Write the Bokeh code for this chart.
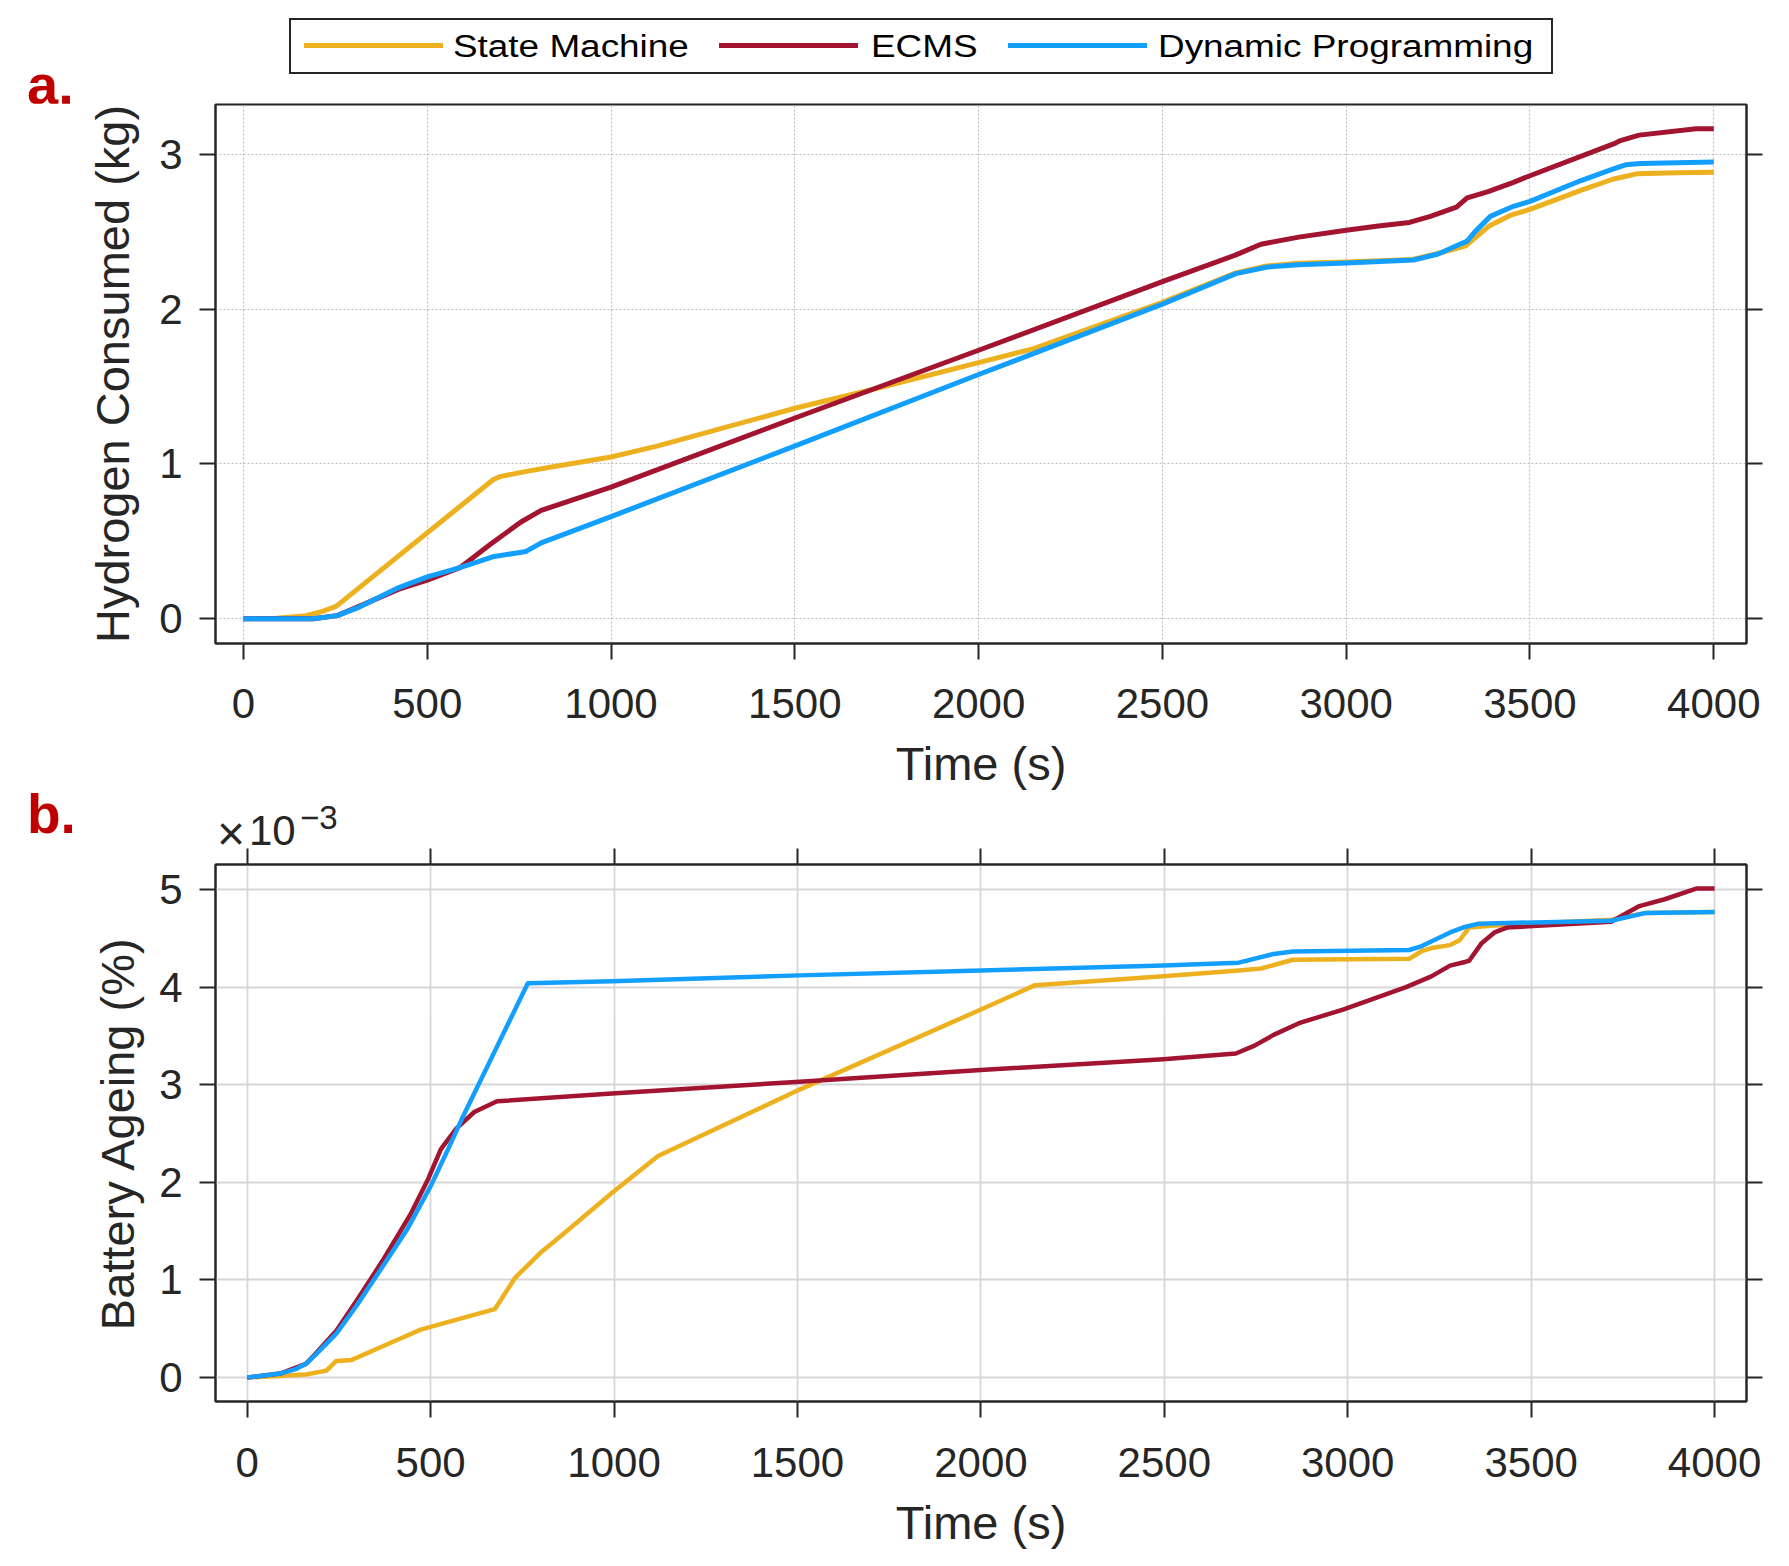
from bokeh.plotting import figure
from bokeh.models import (Range1d, LinearAxis, FixedTicker, CustomJSTickFormatter, Div)
from bokeh.layouts import column
from bokeh.embed import file_html
from bokeh.resources import INLINE

# ---------------- data ----------------
x_ticks = [0, 500, 1000, 1500, 2000, 2500, 3000, 3500, 4000]
ya_ticks = [0, 1, 2, 3]
yb_ticks = [0, 1, 2, 3, 4, 5]

# (a) hydrogen consumed (kg)
t_sm_a = [0, 90, 170, 212, 252, 680, 700, 770, 850, 1000, 1125, 1500, 1700, 2000, 2150,
          2500, 2700, 2780, 2870, 3000, 3180, 3250, 3325, 3390, 3450, 3500, 3640, 3725,
          3790, 3900, 4000]
h_sm = [0, 0.003, 0.02, 0.045, 0.08, 0.90, 0.92, 0.952, 0.985, 1.045, 1.115, 1.36, 1.475,
        1.655, 1.745, 2.045, 2.235, 2.278, 2.297, 2.305, 2.322, 2.36, 2.41, 2.54, 2.61,
        2.645, 2.77, 2.84, 2.875, 2.882, 2.885]

t_ec_a = [0, 190, 255, 310, 421, 500, 589, 671, 755, 810, 1000, 1515, 2000, 2500, 2700,
          2768, 2871, 3000, 3093, 3172, 3229, 3300, 3329, 3386, 3455, 3498, 3729, 3746,
          3797, 3952, 4000]
h_ec = [0, 0, 0.02, 0.075, 0.19, 0.25, 0.33, 0.48, 0.625, 0.70, 0.85, 1.31, 1.735, 2.178,
        2.351, 2.42, 2.466, 2.51, 2.54, 2.561, 2.60, 2.66, 2.72, 2.76, 2.82, 2.861, 3.07,
        3.09, 3.125, 3.167, 3.167]

t_dp_a = [0, 190, 255, 310, 421, 500, 589, 678, 769, 810, 1000, 1515, 2000, 2500, 2700,
          2786, 2871, 3000, 3183, 3250, 3300, 3329, 3350, 3392, 3455, 3500, 3637, 3725,
          3760, 3800, 4000]
h_dp = [0, 0, 0.02, 0.07, 0.20, 0.27, 0.33, 0.40, 0.435, 0.49, 0.66, 1.13, 1.578, 2.033,
        2.23, 2.273, 2.287, 2.299, 2.318, 2.357, 2.41, 2.44, 2.50, 2.60, 2.665, 2.697,
        2.83, 2.905, 2.933, 2.942, 2.951]

# (b) battery ageing (x1e-3 %)
t_sm_b = [0, 160, 216, 243, 285, 382, 473, 549, 675, 730, 800, 855, 994, 1120, 1506, 2000,
          2148, 2497, 2703, 2764, 2850, 3168, 3202, 3228, 3279, 3305, 3331, 3400, 3718,
          3813, 4000]
a_sm = [0, 0.03, 0.07, 0.17, 0.18, 0.34, 0.49, 0.57, 0.70, 1.02, 1.28, 1.45, 1.89, 2.27,
        2.95, 3.77, 4.02, 4.11, 4.17, 4.19, 4.28, 4.29, 4.37, 4.40, 4.43, 4.48, 4.61, 4.63,
        4.69, 4.76, 4.77]

t_ec_b = [0, 90, 160, 188, 243, 299, 368, 445, 494, 528, 570, 619, 681, 994, 1506, 2000,
          2497, 2695, 2746, 2798, 2867, 2987, 3159, 3228, 3279, 3322, 3331, 3365, 3400,
          3434, 3718, 3795, 3864, 3950, 4000]
a_ec = [0, 0.04, 0.14, 0.25, 0.48, 0.79, 1.19, 1.67, 2.04, 2.34, 2.55, 2.72, 2.83, 2.91,
        3.03, 3.15, 3.26, 3.32, 3.40, 3.51, 3.63, 3.77, 4.00, 4.11, 4.22, 4.26, 4.27, 4.45,
        4.56, 4.61, 4.67, 4.83, 4.90, 5.01, 5.01]

t_dp_b = [0, 90, 132, 160, 188, 243, 299, 368, 438, 500, 549, 584, 765, 994, 1506, 2000,
          2497, 2703, 2798, 2850, 3168, 3202, 3279, 3314, 3357, 3718, 3813, 4000]
a_dp = [0, 0.04, 0.085, 0.14, 0.24, 0.45, 0.74, 1.13, 1.53, 1.96, 2.35, 2.64, 4.04, 4.06,
        4.12, 4.17, 4.22, 4.25, 4.34, 4.365, 4.38, 4.42, 4.56, 4.61, 4.65, 4.68, 4.76, 4.77]

names = ["State Machine", "ECMS", "Dynamic Programming"]
colors = ["#EDB120", "#A2142F", "#139FFF"]

# ---------------- styling helpers ----------------
FONT = "Liberation Sans"
CSS_FONT = "'Liberation Sans', Arial, sans-serif"
INK = "#262626"
PAGE_W = 1781
LEFT = 215
FRAME_W = 1531


def style_axis(ax, ticks, show_labels=True, label_standoff=18):
    ax.ticker = FixedTicker(ticks=ticks)
    ax.axis_line_color = INK
    ax.axis_line_width = 2
    ax.major_tick_line_color = INK
    ax.major_tick_line_width = 2
    ax.major_tick_out = 16
    ax.major_tick_in = 0
    ax.minor_tick_out = 0
    ax.minor_tick_in = 0
    ax.major_label_text_font = FONT
    ax.major_label_text_color = INK
    ax.axis_label_text_font = FONT
    ax.axis_label_text_color = INK
    ax.axis_label_text_font_style = "normal"
    ax.axis_label_text_font_size = "47px"
    if show_labels:
        ax.major_label_text_font_size = "42px"
        ax.major_label_standoff = label_standoff
    else:
        ax.formatter = CustomJSTickFormatter(code="return ''")
        ax.major_label_text_font_size = "1px"
        ax.major_label_standoff = 0


def make_fig(fh, xr, yr, top, bottom):
    p = figure(frame_width=FRAME_W, frame_height=fh, x_range=Range1d(*xr),
               y_range=Range1d(*yr), output_backend="svg", toolbar_location=None,
               min_border_left=LEFT, min_border_right=PAGE_W - LEFT - FRAME_W,
               min_border_top=top, min_border_bottom=bottom)
    p.outline_line_color = INK
    p.outline_line_width = 2
    p.outline_line_alpha = 1
    p.background_fill_color = "white"
    p.border_fill_color = "white"
    return p


def txt(s, left, baseline, size, color=INK, bold=False, extra=""):
    # absolutely positioned text; line-height 1 => baseline sits 0.8465em below the box top
    top = baseline - 0.8465 * size
    weight = "bold" if bold else "normal"
    return (f'<span style="position:absolute;left:{left}px;top:{top:.1f}px;'
            f'font-family:{CSS_FONT};font-size:{size}px;font-weight:{weight};'
            f'line-height:1;white-space:nowrap;color:{color};{extra}">{s}</span>')


def strip(h, inner):
    return Div(text=f'<div style="position:relative;width:{PAGE_W}px;height:{h}px;'
                    f'overflow:visible;background:white;">{inner}</div>',
               width=PAGE_W, height=h, margin=(0, 0, 0, 0))


# ---------------- header: legend + "a." ----------------
H_H = 103
leg_line_x = [304, 719, 1008]
leg_text_x = [453, 871, 1158]
parts = ['<div style="position:absolute;left:289px;top:18px;width:1264px;height:56px;'
         f'border:2px solid {INK};box-sizing:border-box;background:white;"></div>']
for lx, tx, n, c in zip(leg_line_x, leg_text_x, names, colors):
    parts.append(f'<div style="position:absolute;left:{lx}px;top:42.5px;width:139px;'
                 f'height:5px;background:{c};"></div>')
    parts.append(txt(n, tx, 56.7, 31, color="black",
                     extra="transform:scaleX(1.19);transform-origin:0 50%;"))
parts.append(txt("a.", 27, 104, 56, color="#C00000", bold=True))
head = strip(H_H, "".join(parts))

# ---------------- figure (a) ----------------
p1 = make_fig(539, (-76, 4089), (-0.16, 3.323), 1, 150)
style_axis(p1.xaxis[0], x_ticks, label_standoff=29)
style_axis(p1.yaxis[0], ya_ticks, label_standoff=17)
p1.xaxis[0].axis_label = "Time (s)"
p1.xaxis[0].axis_label_standoff = 16
p1.yaxis[0].axis_label = "Hydrogen Consumed (kg)"
p1.yaxis[0].axis_label_standoff = 17
r_ax = LinearAxis()
style_axis(r_ax, ya_ticks, show_labels=False)
p1.add_layout(r_ax, "right")
p1.xgrid.ticker = FixedTicker(ticks=x_ticks)
p1.ygrid.ticker = FixedTicker(ticks=ya_ticks)
p1.grid.grid_line_color = "#bdbdbd"
p1.grid.grid_line_width = 1.2
p1.grid.grid_line_dash = "2 2"

for t, v, c in zip([t_sm_a, t_ec_a, t_dp_a], [h_sm, h_ec, h_dp], colors):
    p1.line(t, v, line_color=c, line_width=5, line_join="round")

# ---------------- middle strip: "b." and exponent ----------------
M_H = 54
mid_parts = [txt("b.", 27, 40.5, 55, color="#C00000", bold=True),
             txt("\u00d7", 217, 58, 48),
             txt("10", 249, 53, 42),
             txt("\u22123", 300, 36, 33)]
mid = strip(M_H, "".join(mid_parts))

# ---------------- figure (b) ----------------
p2 = make_fig(537, (-86.4, 4087), (-0.246, 5.256), 17, 155)
style_axis(p2.xaxis[0], x_ticks, label_standoff=30)
style_axis(p2.yaxis[0], yb_ticks, label_standoff=17)
p2.xaxis[0].axis_label = "Time (s)"
p2.xaxis[0].axis_label_standoff = 16
p2.yaxis[0].axis_label = "Battery Ageing (%)"
p2.yaxis[0].axis_label_standoff = 12
t_ax = LinearAxis()
style_axis(t_ax, x_ticks, show_labels=False)
p2.add_layout(t_ax, "above")
r_ax2 = LinearAxis()
style_axis(r_ax2, yb_ticks, show_labels=False)
p2.add_layout(r_ax2, "right")
p2.xgrid.ticker = FixedTicker(ticks=x_ticks)
p2.ygrid.ticker = FixedTicker(ticks=yb_ticks)
p2.grid.grid_line_color = "#d6d6d6"
p2.grid.grid_line_width = 1.8

for t, v, c in zip([t_sm_b, t_ec_b, t_dp_b], [a_sm, a_ec, a_dp], colors):
    p2.line(t, v, line_color=c, line_width=4.5, line_join="round")

page = column(head, p1, mid, p2)
open("out.html", "w").write(file_html(page, INLINE))
